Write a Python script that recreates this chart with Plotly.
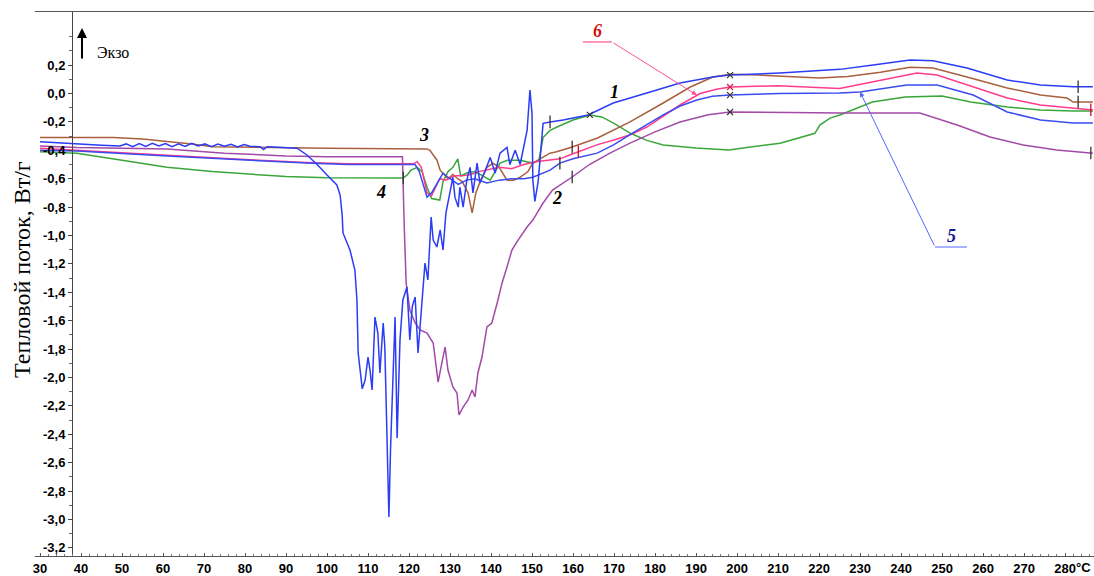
import numpy as np
import plotly.graph_objects as go

# DSC heat-flow curves: temperature (°C) and heat flow (W/g)
T1 = [30, 35, 40, 45, 49.5, 51, 52.6, 54.2, 55.8, 57.4, 59, 60.6, 62.2, 63.8, 65.4, 67, 68.6, 70.2, 71.8, 73.4,
      75, 76.6, 78.2, 79.8, 81.2, 83.7, 84.5, 85.4, 88, 92.7, 95.1, 97.6, 100.0, 102.4, 103.2, 103.7, 103.9, 105.6,
      106.8, 107.3, 107.6, 108.0, 108.6, 109.3, 110.0, 110.5, 111.0, 111.7, 112.4, 112.9, 113.7, 114.1, 114.5, 114.9,
      115.1, 115.5, 115.9, 116.6, 117.1, 117.8, 118.5, 119.5, 120.2, 120.8, 121.5, 122.2, 123.2, 123.9, 124.6, 125.4,
      125.9, 126.8, 127.6, 128.3, 129.0, 129.5, 130.0, 130.7, 131.2, 132.0, 132.4, 133.2, 134.1, 134.9, 135.6, 136.6,
      137.3, 138.5, 139.8, 141.0, 142.2, 143.9, 144.6, 145.9, 147.1, 147.8, 148.8, 149.5, 150.0, 150.2, 150.7, 151.5,
      152.4, 152.7, 154.4, 157.6, 163.7, 169.8, 178.0, 186.1, 194.1, 198.3, 210.5, 225.1, 233.2, 242.2, 247.8, 256.1,
      265.9, 274.0, 282.0, 286.8]
V1 = [-0.34, -0.35, -0.36, -0.365, -0.37, -0.355, -0.375, -0.352, -0.372, -0.35, -0.37, -0.352, -0.374, -0.355,
      -0.372, -0.35, -0.37, -0.355, -0.375, -0.356, -0.372, -0.358, -0.376, -0.36, -0.372, -0.375, -0.395, -0.375,
      -0.378, -0.385, -0.433, -0.50, -0.574, -0.644, -0.715, -0.856, -0.982, -1.102, -1.243, -1.454, -1.827, -1.926,
      -2.08, -2.018, -1.856, -1.95, -2.088, -1.574, -1.687, -1.968, -1.616, -1.785, -2.2, -2.602, -2.982, -2.5, -2.208,
      -1.574, -2.426, -1.736, -1.454, -1.363, -1.736, -1.5, -1.433, -1.827, -1.454, -1.194, -1.313, -0.870, -1.032,
      -1.081, -0.961, -1.102, -0.842, -0.771, -0.68, -0.59, -0.73, -0.80, -0.66, -0.80, -0.61, -0.52, -0.70, -0.49,
      -0.63, -0.55, -0.45, -0.56, -0.42, -0.38, -0.50, -0.40, -0.50, -0.40, -0.26, 0.025, -0.14, -0.61, -0.76, -0.62,
      -0.28, -0.21, -0.20, -0.187, -0.151, -0.067, 0.004, 0.074, 0.116, 0.13, 0.144, 0.17, 0.20, 0.236, 0.231, 0.18,
      0.095, 0.06, 0.048, 0.048]

T2 = [30, 39, 50, 61, 75, 90, 100, 118.4, 118.8, 119.3, 120.2, 121.5, 122.7, 124.4, 125.9, 127.1, 128.0, 128.8,
      129.5, 130.7, 131.7, 132.2, 133.2, 134.4, 135.4, 136.1, 136.8, 137.8, 139.0, 140.2, 141.5, 142.7, 143.9, 145.1,
      146.6, 148.8, 150.2, 152.7, 155.0, 159.8, 164, 169, 173.9, 180, 186.1, 193, 198.3, 210, 225, 244.6, 253.7,
      261.7, 269.8, 278, 286.8]
V2 = [-0.37, -0.38, -0.385, -0.39, -0.42, -0.44, -0.445, -0.445, -0.9, -1.334, -1.525, -1.616, -1.665, -1.687,
      -1.757, -2.032, -1.898, -1.785, -1.947, -2.067, -2.109, -2.264, -2.208, -2.158, -2.088, -2.137, -1.968, -1.856,
      -1.644, -1.616, -1.475, -1.334, -1.222, -1.102, -1.032, -0.940, -0.891, -0.771, -0.68, -0.588, -0.50, -0.42,
      -0.349, -0.27, -0.201, -0.15, -0.13, -0.135, -0.138, -0.138, -0.222, -0.306, -0.363, -0.398, -0.42]

T3 = [30, 47.8, 55, 61, 67, 72.2, 85, 100, 124.4, 125.1, 125.9, 126.8, 127.6, 128.3, 129.5, 130.7, 131.9, 133.0,
      134.4, 135.4, 136.3, 137.5, 139.0, 140.5, 142.0, 143.9, 145.5, 147.1, 149.0, 150.2, 152.0, 154.4, 156.0, 159.8,
      166.0, 173.9, 182.0, 188.6, 194.1, 198.3, 205, 212, 220, 227, 235, 242.2, 247.8, 256.1, 265.9, 274.0, 280.5,
      282.0, 286.8]
V3 = [-0.31, -0.31, -0.32, -0.335, -0.355, -0.375, -0.38, -0.385, -0.39, -0.40, -0.433, -0.468, -0.54, -0.56,
      -0.60, -0.57, -0.60, -0.62, -0.70, -0.84, -0.70, -0.61, -0.52, -0.49, -0.52, -0.61, -0.61, -0.59, -0.55, -0.49,
      -0.46, -0.42, -0.41, -0.377, -0.313, -0.20, -0.067, 0.046, 0.116, 0.135, 0.13, 0.12, 0.11, 0.12, 0.15, 0.185,
      0.18, 0.116, 0.039, -0.011, -0.032, -0.06, -0.06]

T4 = [30, 39, 50, 61, 72, 81, 90, 100, 118.6, 119.5, 120.5, 122.0, 123.2, 124.4, 125.5, 127.5, 128.3, 129.5, 130.7,
      131.9, 132.6, 134.1, 136.0, 138.0, 139.8, 141.0, 142.2, 144.0, 147.0, 150.2, 151.7, 152.7, 154.4, 156.1, 160.0,
      164.1, 167.0, 170.0, 174.0, 178.0, 182.0, 190.0, 198.0, 202.4, 210.5, 219.0, 220.2, 222.7, 225.1, 233.0, 241.0,
      250.0, 257.0, 266.0, 274.0, 282.0, 286.8]
V4 = [-0.41, -0.42, -0.47, -0.52, -0.55, -0.565, -0.585, -0.593, -0.595, -0.575, -0.54, -0.52, -0.55, -0.66, -0.74,
      -0.75, -0.62, -0.55, -0.52, -0.46, -0.58, -0.56, -0.55, -0.58, -0.61, -0.55, -0.49, -0.47, -0.47, -0.49, -0.47,
      -0.31, -0.26, -0.236, -0.187, -0.151, -0.165, -0.21, -0.28, -0.33, -0.363, -0.384, -0.398, -0.38, -0.35, -0.28,
      -0.222, -0.173, -0.151, -0.06, -0.025, -0.018, -0.06, -0.095, -0.116, -0.123, -0.123]

T5 = [30, 39, 61, 80, 95, 105, 121.5, 122.5, 124.4, 125.5, 127.0, 128.3, 130.0, 132.0, 134.0, 136.0, 139.0, 142.0,
      145.0, 148.0, 150.2, 152.0, 154.4, 156.8, 160.0, 165.9, 170.0, 173.9, 178.0, 182.0, 186.0, 190.2, 194.0, 198.3,
      210.5, 225.0, 230.0, 241.4, 248.8, 257.6, 265.9, 274.0, 282.0, 286.8]
V5 = [-0.40, -0.405, -0.44, -0.47, -0.49, -0.50, -0.50, -0.55, -0.73, -0.70, -0.62, -0.56, -0.60, -0.64, -0.61,
      -0.60, -0.63, -0.61, -0.60, -0.60, -0.59, -0.57, -0.54, -0.49, -0.46, -0.42, -0.36, -0.29, -0.22, -0.15, -0.09,
      -0.046, -0.02, -0.011, 0.0, 0.004, 0.011, 0.06, 0.06, -0.011, -0.13, -0.187, -0.208, -0.208]

T6 = [30, 39, 61, 80, 95, 105, 121.0, 122.0, 123.0, 124.4, 125.5, 126.5, 127.5, 129.0, 131.0, 133.0, 135.0, 137.0,
      139.0, 142.0, 145.0, 148.0, 151.0, 154.0, 156.8, 159.5, 161.3, 166.0, 170.0, 174.0, 178.0, 182.0, 186.1, 191.0,
      195.0, 198.3, 210.0, 225.0, 233.2, 243.9, 248.8, 257.6, 265.9, 274.0, 282.0, 286.8]
V6 = [-0.385, -0.40, -0.435, -0.465, -0.485, -0.495, -0.495, -0.48, -0.52, -0.70, -0.72, -0.66, -0.60, -0.61, -0.58,
      -0.58, -0.57, -0.55, -0.54, -0.52, -0.53, -0.50, -0.48, -0.47, -0.46, -0.43, -0.41, -0.36, -0.327, -0.29,
      -0.236, -0.16, -0.081, 0.0, 0.03, 0.046, 0.055, 0.035, 0.081, 0.144, 0.13, 0.046, -0.032, -0.081, -0.10, -0.116]

# Tick marks and cross marks placed on the curves (temperatures)
TICK_T = {1: [154.4, 283.2], 2: [159.8, 286.3], 3: [159.8, 283.2], 4: [118.6], 5: [156.8], 6: [161.3, 286.3]}
CROSS_T = {1: [198.3], 2: [198.3], 5: [198.3], 6: [198.3], 4: [164.1]}

X_TICKS = [30, 40, 50, 60, 70, 80, 90, 100, 110, 120, 130, 140, 150, 160, 170, 180, 190, 200, 210, 220, 230, 240,
           250, 260, 270, 280]
Y_TICKS = [0.2, 0.0, -0.2, -0.4, -0.6, -0.8, -1.0, -1.2, -1.4, -1.6, -1.8, -2.0, -2.2, -2.4, -2.6, -2.8, -3.0, -3.2]
Y_LABELS = ["0,2", "0,0", "-0,2", "-0,4", "-0,6", "-0,8", "-1,0", "-1,2", "-1,4", "-1,6", "-1,8", "-2,0", "-2,2",
            "-2,4", "-2,6", "-2,8", "-3,0", "-3,2"]
Y_MINOR = [0.4, 0.3, 0.1, -0.1, -0.3, -0.5, -0.7, -0.9, -1.1, -1.3, -1.5, -1.7, -1.9, -2.1, -2.3, -2.5, -2.7, -2.9,
           -3.1]

curves = {
    1: (T1, V1, "#2b3cf5"),
    2: (T2, V2, "#a24aa6"),
    3: (T3, V3, "#a8603e"),
    4: (T4, V4, "#3aa63a"),
    5: (T5, V5, "#3a4cf0"),
    6: (T6, V6, "#ff3c8c"),
}
for k, (t, v, _) in curves.items():
    assert len(t) == len(v), k

fig = go.Figure()
for k in [4, 3, 6, 5, 2, 1]:
    t, v, col = curves[k]
    fig.add_trace(go.Scatter(x=t, y=v, mode="lines", line=dict(color=col, width=1.5), hoverinfo="skip"))

for k, ts in TICK_T.items():
    t, v, col = curves[k]
    fig.add_trace(go.Scatter(x=ts, y=np.interp(ts, t, v), mode="markers",
                             marker=dict(symbol="line-ns", size=9,
                                         line=dict(width=1.3, color="#c0102a" if k == 6 else "#333"))))
for k, ts in CROSS_T.items():
    t, v, col = curves[k]
    fig.add_trace(go.Scatter(x=ts, y=np.interp(ts, t, v), mode="markers",
                             marker=dict(symbol="x-thin", size=6,
                                         line=dict(width=1.2, color="#d02040" if k == 6 else "#333"))))

serif = "Liberation Serif"
ann = []
ann.append(dict(x=-0.0123, y=0.5276, xref="paper", yref="paper", xanchor="center", yanchor="middle",
                text="Тепловой поток, Вт/г", textangle=-90,
                showarrow=False, font=dict(family=serif, size=24, color="black")))
ann.append(dict(x=47.8, y=0.292, text="Экзо", showarrow=False, font=dict(family=serif, size=16, color="black")))
ann.append(dict(x=40.24, y=0.461, ax=40.24, ay=0.236, axref="x", ayref="y", text="", showarrow=True,
                arrowhead=2, arrowsize=1, arrowwidth=2, arrowcolor="black"))
for txt, tx, ty, col in [("1", 170.2, 0.01, "black"), ("2", 156.1, -0.736, "black"), ("3", 123.7, -0.292, "black"),
                         ("4", 113.2, -0.694, "black"), ("6", 165.9, 0.44, "#d01010"), ("5", 252.4, -1.0, "#1a1a8c")]:
    ann.append(dict(x=tx, y=ty, text=f"<b><i>{txt}</i></b>", showarrow=False,
                    font=dict(family=serif, size=18, color=col)))
# leader lines for labels 6 and 5
ann.append(dict(x=190.2, y=-0.011, ax=169.5, ay=0.363, axref="x", ayref="y", text="", showarrow=True,
                arrowhead=2, arrowsize=1, arrowwidth=1, arrowcolor="#ff4f95"))
ann.append(dict(x=230.0, y=0.011, ax=248.3, ay=-1.081, axref="x", ayref="y", text="", showarrow=True,
                arrowhead=2, arrowsize=1, arrowwidth=1, arrowcolor="#5566ff"))
# temperature unit after the last tick label
ann.append(dict(x=0.999, y=-0.022, xref="paper", yref="paper", xanchor="right", yanchor="middle",
                text="<b>°C</b>", showarrow=False,
                font=dict(family="Liberation Sans", size=13, color="black")))

shapes = [
    dict(type="line", x0=162.4, x1=169.5, y0=0.363, y1=0.363, line=dict(color="#ff4f95", width=1.2)),
    dict(type="line", x0=248.3, x1=256.1, y0=-1.081, y1=-1.081, line=dict(color="#5566ff", width=1.2)),
]

fig.update_layout(
    width=1094, height=576,
    margin=dict(l=35, r=0, t=12, b=20),
    paper_bgcolor="white", plot_bgcolor="white",
    showlegend=False,
    annotations=ann, shapes=shapes,
    xaxis=dict(range=[28.78, 287.07], showline=True, linecolor="#555", linewidth=1, mirror=True,
               showgrid=False, zeroline=False, ticks="inside", ticklen=3, tickcolor="#555",
               tickvals=X_TICKS, ticktext=[str(v) for v in X_TICKS],
               minor=dict(ticks="inside", ticklen=2, tick0=30, dtick=2, tickcolor="#777"),
               tickfont=dict(family="Liberation Sans", size=13, color="black", weight="bold")),
    yaxis=dict(range=[-3.257, 0.574], anchor="free", position=37 / 1059, showline=True, linecolor="#444",
               linewidth=1, showgrid=False, zeroline=False, ticks="outside", ticklen=4, tickcolor="#444",
               tickvals=Y_TICKS, ticktext=Y_LABELS,
               minor=dict(ticks="outside", ticklen=3, tickvals=Y_MINOR, tickcolor="#666"),
               tickfont=dict(family="Liberation Sans", size=13, color="black", weight="bold")),
)

fig.write_html("out.html")
